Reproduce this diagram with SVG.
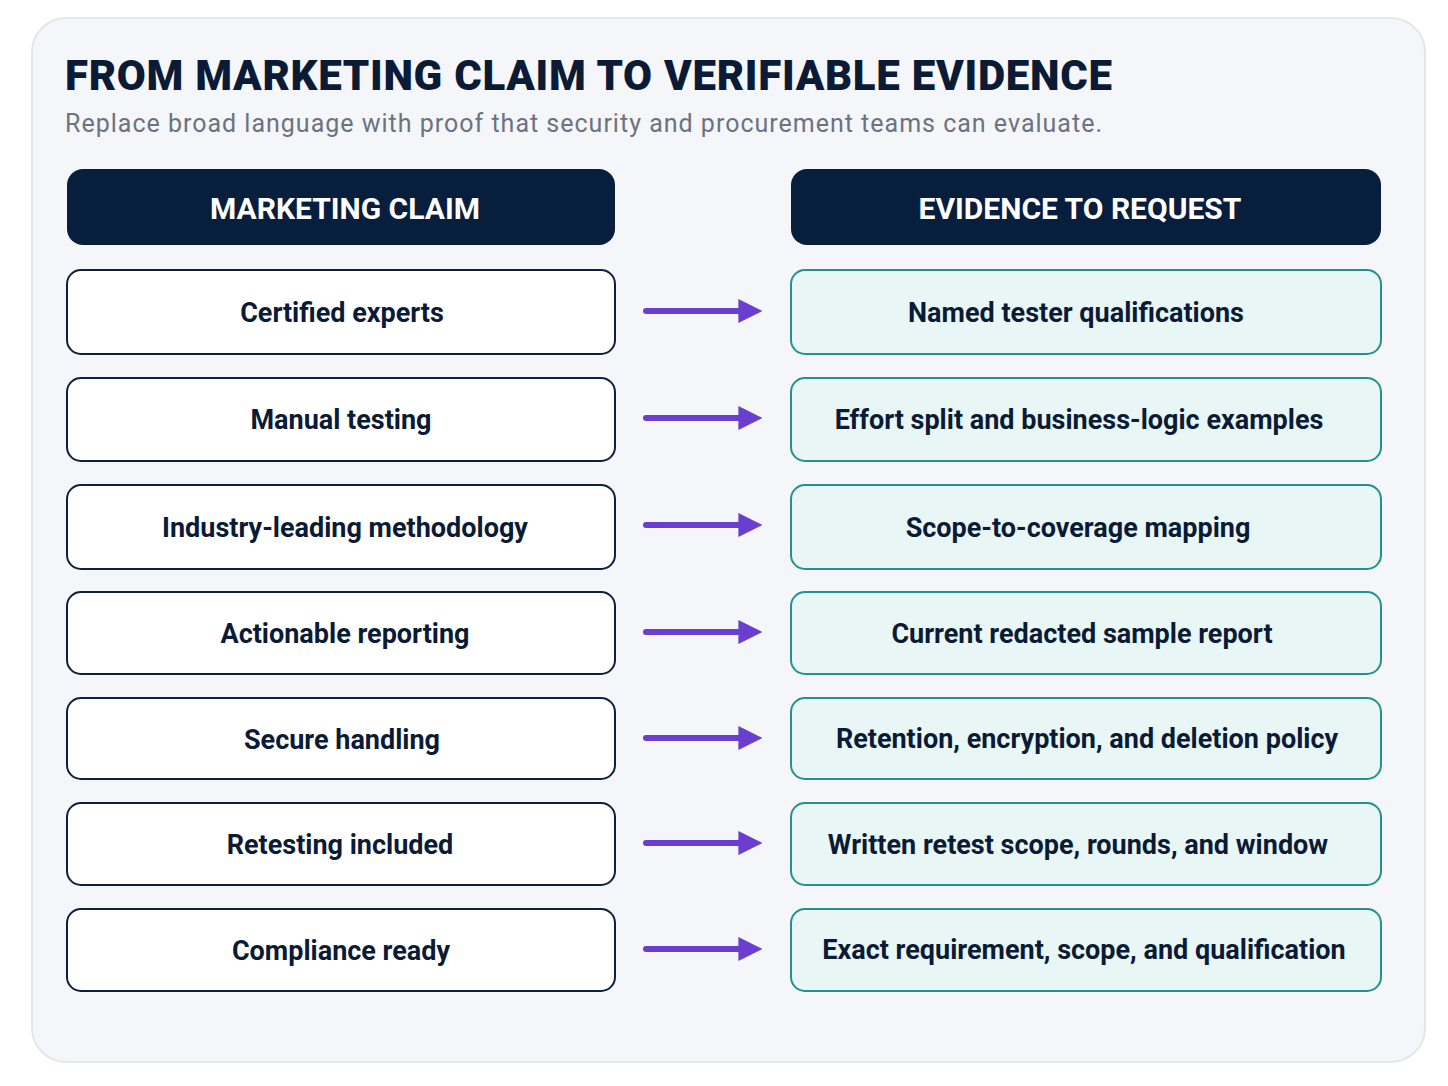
<svg xmlns="http://www.w3.org/2000/svg" width="1448" height="1086" viewBox="0 0 1448 1086">
<defs>
<style>
.l{fill:#fff;stroke:#0f1f3d;stroke-width:2}
.r{fill:#e8f6f5;stroke:#23918f;stroke-width:2}
.h{fill:#071e3d}
.t{font-family:Roboto,"Liberation Sans",sans-serif;font-weight:700;font-size:27px;fill:#0b1a35;text-anchor:middle}
.ht{font-family:Roboto,"Liberation Sans",sans-serif;font-weight:700;font-size:30px;fill:#fff;text-anchor:middle}
.a{stroke:#6a3fcf;stroke-width:6;stroke-linecap:round;fill:none}
</style>
<marker id="m" viewBox="0 0 10 10" refX="4" refY="5" markerWidth="4" markerHeight="5" markerUnits="strokeWidth" orient="auto"><path d="M0,0L10,5L0,10z" fill="#6a3fcf"/></marker>
</defs>
<rect width="1448" height="1086" fill="#fff"/>
<rect x="32" y="18" width="1393" height="1044" rx="34" fill="#f5f6f9" stroke="#e4e6ea" stroke-width="2"/>
<text x="65" y="90" font-family="Roboto,'Liberation Sans',sans-serif" font-weight="900" font-size="42" fill="#0b1a35" textLength="1047">FROM MARKETING CLAIM TO VERIFIABLE EVIDENCE</text>
<text x="65" y="132" font-family="Roboto,'Liberation Sans',sans-serif" font-size="25" fill="#6b7280" textLength="1037">Replace broad language with proof that security and procurement teams can evaluate.</text>
<g id="hdr-left"><rect class="h" x="67" y="169" width="548" height="76" rx="16"/><text class="ht" x="345" y="219">MARKETING CLAIM</text></g>
<g id="hdr-right"><rect class="h" x="791" y="169" width="590" height="76" rx="16"/><text class="ht" x="1080" y="219">EVIDENCE TO REQUEST</text></g>
<g id="n1"><rect class="l" x="67" y="270" width="548" height="84" rx="14"/><text class="t" x="342" y="322">Certified experts</text></g>
<g id="e1"><rect class="r" x="791" y="270" width="590" height="84" rx="14"/><text class="t" x="1076" y="322">Named tester qualifications</text></g>
<g id="n2"><rect class="l" x="67" y="378" width="548" height="83" rx="14"/><text class="t" x="341" y="429">Manual testing</text></g>
<g id="e2"><rect class="r" x="791" y="378" width="590" height="83" rx="14"/><text class="t" x="1079" y="429">Effort split and business-logic examples</text></g>
<g id="n3"><rect class="l" x="67" y="485" width="548" height="84" rx="14"/><text class="t" x="345" y="537">Industry-leading methodology</text></g>
<g id="e3"><rect class="r" x="791" y="485" width="590" height="84" rx="14"/><text class="t" x="1078" y="537">Scope-to-coverage mapping</text></g>
<g id="n4"><rect class="l" x="67" y="592" width="548" height="82" rx="14"/><text class="t" x="345" y="643">Actionable reporting</text></g>
<g id="e4"><rect class="r" x="791" y="592" width="590" height="82" rx="14"/><text class="t" x="1082" y="643">Current redacted sample report</text></g>
<g id="n5"><rect class="l" x="67" y="698" width="548" height="81" rx="14"/><text class="t" x="342" y="749">Secure handling</text></g>
<g id="e5"><rect class="r" x="791" y="698" width="590" height="81" rx="14"/><text class="t" x="1087" y="748">Retention, encryption, and deletion policy</text></g>
<g id="n6"><rect class="l" x="67" y="803" width="548" height="82" rx="14"/><text class="t" x="340" y="854">Retesting included</text></g>
<g id="e6"><rect class="r" x="791" y="803" width="590" height="82" rx="14"/><text class="t" x="1078" y="854">Written retest scope, rounds, and window</text></g>
<g id="n7"><rect class="l" x="67" y="909" width="548" height="82" rx="14"/><text class="t" x="341" y="960">Compliance ready</text></g>
<g id="e7"><rect class="r" x="791" y="909" width="590" height="82" rx="14"/><text class="t" x="1084" y="959">Exact requirement, scope, and qualification</text></g>
<g id="connectors">
<line class="a" x1="646" y1="311" x2="748" y2="311" marker-end="url(#m)"/>
<line class="a" x1="646" y1="418" x2="748" y2="418" marker-end="url(#m)"/>
<line class="a" x1="646" y1="525" x2="748" y2="525" marker-end="url(#m)"/>
<line class="a" x1="646" y1="632" x2="748" y2="632" marker-end="url(#m)"/>
<line class="a" x1="646" y1="738" x2="748" y2="738" marker-end="url(#m)"/>
<line class="a" x1="646" y1="843" x2="748" y2="843" marker-end="url(#m)"/>
<line class="a" x1="646" y1="949" x2="748" y2="949" marker-end="url(#m)"/>
</g>
</svg>
